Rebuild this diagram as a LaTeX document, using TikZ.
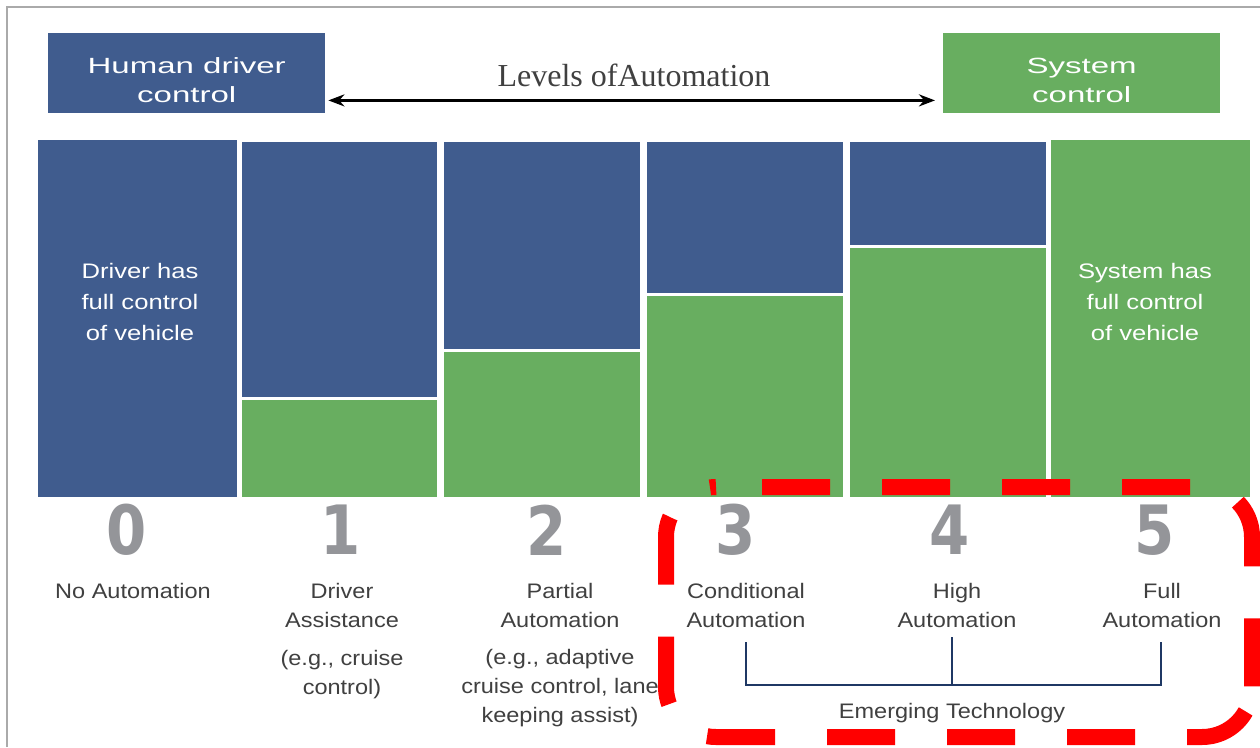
\documentclass[tikz,border=0pt]{standalone}
\usepackage{fontspec}
\setmainfont{Liberation Sans}
\newfontfamily\seriffont{Liberation Serif}
\newfontfamily\headfont[FakeStretch=1.5]{Liberation Sans}
\newfontfamily\colfont[FakeStretch=1.22]{Liberation Sans}
\newfontfamily\lblfont[FakeStretch=1.12]{Liberation Sans}
\newfontfamily\numfont[FakeStretch=0.85]{DejaVu Sans}
\usetikzlibrary{arrows.meta}
\definecolor{cblue}{RGB}{64,92,142}
\definecolor{cgreen}{RGB}{104,174,96}
\definecolor{cnum}{RGB}{148,149,153}
\definecolor{ctext}{RGB}{64,64,64}
\definecolor{cbrack}{RGB}{31,56,100}
\definecolor{cframe}{RGB}{170,170,170}
\definecolor{cred}{RGB}{255,0,0}
\begin{document}
\begin{tikzpicture}[x=1pt,y=-1pt,
  barblue/.style={fill=cblue,draw=white,line width=3pt,inner sep=0pt,anchor=north west},
  bargreen/.style={fill=cgreen,draw=white,line width=3pt,inner sep=0pt,anchor=north west},
  headbox/.style={inner sep=0pt,minimum width=277pt,minimum height=80pt,anchor=north west},
  headtext/.style={text=white,align=center,inner sep=0pt,font=\headfont\fontsize{22}{29}\selectfont},
  coltext/.style={text=white,align=center,inner sep=0pt,font=\colfont\fontsize{21}{31}\selectfont},
  numstyle/.style={text=cnum,inner sep=0pt,font=\numfont\bfseries\fontsize{68}{70}\selectfont},
  lbl/.style={text=ctext,align=center,inner sep=0pt,font=\lblfont\fontsize{21}{29}\selectfont},
  bracket/.style={draw=cbrack,line width=1.2pt},
  redframe/.style={draw=cred,line width=16pt,dash pattern=on 68pt off 52pt,rounded corners=50pt}
]
\useasboundingbox (0,0) rectangle (1260,747);
\fill[white] (0,0) rectangle (1260,747);
\draw[cframe,line width=1.5pt] (7,747) -- (7,7) -- (1260,7);

% header boxes
\node[headbox,fill=cblue] (human) at (48,33) {};
\node[headtext] at ([yshift=-7pt]human.center) {Human driver\\control};
\node[headbox,fill=cgreen] (system) at (943,33) {};
\node[headtext] at ([yshift=-7pt]system.center) {System\\control};
\node[text=ctext,inner sep=0pt,font=\seriffont\fontsize{32}{36}\selectfont] (levels) at (634,75) {Levels ofAutomation};
\draw[line width=3pt,{Stealth[length=16pt,width=12pt]}-{Stealth[length=16pt,width=12pt]}]
  ([yshift=13pt,xshift=3pt]human.south east) -- ([yshift=13pt,xshift=-8pt]system.south west);

% columns
\node[barblue,minimum width=202pt,minimum height=360pt] (c0) at (35,137) {};
\node[coltext] at (140,302) {Driver has\\full control\\of vehicle};

\node[barblue,minimum width=198pt,minimum height=258pt] (c1b) at (239,139) {};
\node[bargreen,minimum width=198pt,minimum height=100pt] (c1g) at (239,397) {};

\node[barblue,minimum width=199pt,minimum height=210pt] (c2b) at (441,139) {};
\node[bargreen,minimum width=199pt,minimum height=148pt] (c2g) at (441,349) {};

\node[barblue,minimum width=199pt,minimum height=154pt] (c3b) at (644,139) {};
\node[bargreen,minimum width=199pt,minimum height=204pt] (c3g) at (644,293) {};

\node[barblue,minimum width=199pt,minimum height=106pt] (c4b) at (847,139) {};
\node[bargreen,minimum width=199pt,minimum height=252pt] (c4g) at (847,245) {};

\node[bargreen,minimum width=202pt,minimum height=360pt] (c5) at (1048,137) {};
\node[coltext] at (1145,302) {System has\\full control\\of vehicle};

% numbers
\node[numstyle] (n0) at (127,530) {0};
\node[numstyle] (n1) at (341,530) {1};
\node[numstyle] (n2) at (547,530) {2};
\node[numstyle] (n3) at (736,530) {3};
\node[numstyle] (n4) at (950,530) {4};
\node[numstyle] (n5) at (1155,530) {5};

% labels
\node[lbl] (l0) at (133,591) {No Automation};
\node[lbl] (l1) at (342,605.5) {Driver\\Assistance};
\node[lbl] (e1) at (342,674.5) {(e.g., cruise\\control)};
\node[lbl] (l2) at (560,605.5) {Partial\\Automation};
\node[lbl] (e2) at (560,688.5) {(e.g., adaptive\\cruise control, lane\\keeping assist)};
\node[lbl] (l3) at (746,605.5) {Conditional\\Automation};
\node[lbl] (l4) at (957,605.5) {High\\Automation};
\node[lbl] (l5) at (1162,605.5) {Full\\Automation};
\node[lbl] (emerging) at (952,713) {Emerging Technology};

% bracket
\coordinate (b3) at (746,642);
\coordinate (b4) at (952,637);
\coordinate (b5) at (1161,642);
\draw[bracket] (b3) -- (b3 |- 0,685) -- (b5 |- 0,685) -- (b5);
\draw[bracket] (b4) -- (b4 |- 0,685);

% red dashed frame (two runs so the dashes fall as in the reference)
\draw[redframe,dash phase=74pt]
  (716,487) -- (1252,487) -- (1252,687);
\draw[redframe,dash phase=94.5pt]
  (1252,687) -- (1252,737) -- (666,737) -- (666,487) -- (716,487);
\end{tikzpicture}
\end{document}
